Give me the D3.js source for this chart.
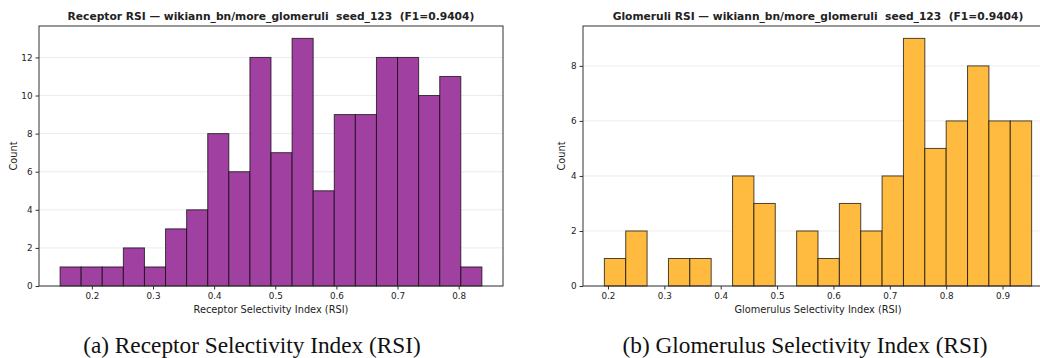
<!DOCTYPE html>
<html>
<head>
<meta charset="utf-8">
<script src="https://cdn.jsdelivr.net/npm/d3@7"></script>
<style>
  body { margin: 0; background: #fff; }
  svg text { font-family: "DejaVu Sans", sans-serif; fill: #222; white-space: pre; }
  .caption { font-family: "Liberation Serif", "Times New Roman", serif; fill: #111; }
</style>
</head>
<body>
<svg id="fig" width="1040" height="358"></svg>
<script>
// receptor RSI histogram: 20 bins between these edges
var receptorRange = [0.148, 0.838];
var receptorCounts = [1, 1, 1, 2, 1, 3, 4, 8, 6, 12, 7, 13, 5, 9, 9, 12, 12, 10, 11, 1];
var receptorXTicks = [0.2, 0.3, 0.4, 0.5, 0.6, 0.7, 0.8];
var receptorYTicks = [0, 2, 4, 6, 8, 10, 12];

// glomeruli RSI histogram
var glomRange = [0.1936, 0.9516];
var glomCounts = [1, 2, 0, 1, 1, 0, 4, 3, 0, 2, 1, 3, 2, 4, 9, 5, 6, 8, 6, 6];
var glomXTicks = [0.2, 0.3, 0.4, 0.5, 0.6, 0.7, 0.8, 0.9];
var glomYTicks = [0, 2, 4, 6, 8];

var svg = d3.select('#fig');

function drawHist(opts) {
  var g = svg.append('g');
  var range = opts.range, counts = opts.counts;
  var n = counts.length;
  var bw = (range[1] - range[0]) / n;
  var pad = (range[1] - range[0]) * 0.05;
  var ymax = d3.max(counts) * 1.05;

  var x = d3.scaleLinear().domain([range[0] - pad, range[1] + pad]).range([opts.left, opts.right]);
  var y = d3.scaleLinear().domain([0, ymax]).range([opts.bottom, opts.top]);

  // grid
  g.selectAll('.grid').data(opts.yTicks).enter().append('line')
    .attr('x1', opts.left).attr('x2', opts.right)
    .attr('y1', function(d) { return y(d); }).attr('y2', function(d) { return y(d); })
    .attr('stroke', '#e6e6e6').attr('stroke-width', 0.8);

  var bins = counts.map(function(c, i) {
    return { x0: range[0] + i * bw, x1: range[0] + (i + 1) * bw, c: c };
  });

  g.selectAll('.bar').data(bins.filter(function(b) { return b.c > 0; })).enter().append('rect')
    .attr('x', function(d) { return x(d.x0); })
    .attr('width', function(d) { return x(d.x1) - x(d.x0); })
    .attr('y', function(d) { return y(d.c); })
    .attr('height', function(d) { return y(0) - y(d.c); })
    .attr('fill', opts.color)
    .attr('stroke', '#000').attr('stroke-opacity', 0.7).attr('stroke-width', 1);

  // spines
  g.append('rect')
    .attr('x', opts.left).attr('y', opts.top)
    .attr('width', opts.right - opts.left).attr('height', opts.bottom - opts.top)
    .attr('fill', 'none').attr('stroke', '#333').attr('stroke-width', 1);

  var xAxis = g.append('g').attr('transform', 'translate(0,' + opts.bottom + ')')
    .call(d3.axisBottom(x).tickValues(opts.xTicks).tickSize(3.5).tickPadding(3).tickFormat(d3.format('.1f')));
  var yAxis = g.append('g').attr('transform', 'translate(' + opts.left + ',0)')
    .call(d3.axisLeft(y).tickValues(opts.yTicks).tickSize(3.5).tickPadding(3).tickFormat(d3.format('d')));
  [xAxis, yAxis].forEach(function(a) {
    a.select('.domain').remove();
    a.selectAll('line').attr('stroke', '#333');
    a.selectAll('text').attr('font-size', 8.8).attr('fill', '#222').attr('font-family', 'DejaVu Sans');
  });

  g.append('text').attr('x', (opts.left + opts.right) / 2).attr('y', opts.top - 6)
    .attr('text-anchor', 'middle').attr('font-size', 10.7).attr('font-weight', 'bold')
    .text(opts.title);
  g.append('text').attr('x', (opts.left + opts.right) / 2).attr('y', opts.bottom + 27)
    .attr('text-anchor', 'middle').attr('font-size', 9.8).text(opts.xLabel);
  g.append('text')
    .attr('transform', 'translate(' + opts.countX + ',' + ((opts.top + opts.bottom) / 2) + ') rotate(-90)')
    .attr('text-anchor', 'middle').attr('font-size', 9.8).text('Count');

  svg.append('text').attr('class', 'caption')
    .attr('x', opts.capX).attr('y', 353).attr('text-anchor', 'middle')
    .attr('font-size', 23.3).text(opts.caption);
}

drawHist({
  range: receptorRange, counts: receptorCounts,
  xTicks: receptorXTicks, yTicks: receptorYTicks,
  left: 39, right: 503, top: 26, bottom: 286,
  color: '#a040a0', countX: 17,
  title: 'Receptor RSI \u2014 wikiann_bn/more_glomeruli  seed_123  (F1=0.9404)',
  xLabel: 'Receptor Selectivity Index (RSI)',
  caption: '(a) Receptor Selectivity Index (RSI)', capX: 252
});

drawHist({
  range: glomRange, counts: glomCounts,
  xTicks: glomXTicks, yTicks: glomYTicks,
  left: 583, right: 1053, top: 26, bottom: 286,
  color: '#ffbb40', countX: 565,
  title: 'Glomeruli RSI \u2014 wikiann_bn/more_glomeruli  seed_123  (F1=0.9404)',
  xLabel: 'Glomerulus Selectivity Index (RSI)',
  caption: '(b) Glomerulus Selectivity Index (RSI)', capX: 805
});
</script>
</body>
</html>
